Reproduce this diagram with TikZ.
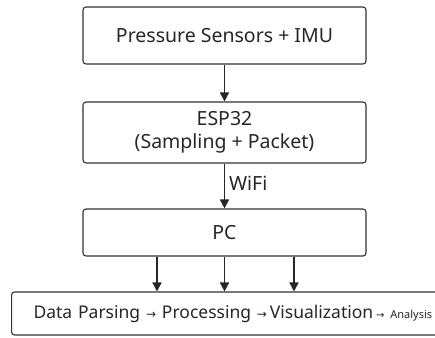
\documentclass[tikz,border=0pt]{standalone}
\usepackage{fontspec}
\setmainfont{Noto Sans}
\newfontfamily\arrowfont{DejaVu Sans}
\usetikzlibrary{arrows.meta}
\newcommand{\thento}[1]{{\arrowfont\fontsize{#1}{#1}\selectfont →}}
\begin{document}
\begin{tikzpicture}[x=1pt, y=-1pt,
    every node/.style={draw=black!80, line width=1.1pt, rounded corners=3pt, font=\fontsize{19.5}{23}\selectfont, text=black!85},
    flow/.style={-{Triangle[length=9pt, width=9pt]}, line width=1.5pt, draw=black!85}]
    \useasboundingbox (0,0) rectangle (435,337);

    \node[minimum width=283pt, minimum height=57pt] (sensors) at (224.5,35.5) {Pressure Sensors + IMU};
    \node[minimum width=283pt, minimum height=61pt, align=center] (esp) at (224.5,132.5) {ESP32\\(Sampling + Packet)};
    \node[minimum width=283pt, minimum height=47pt] (pc) at (224.5,232.5) {PC};
    \node[minimum height=43pt, anchor=west, text width=480pt, align=left, inner xsep=22pt, font=\fontsize{17.5}{21}\selectfont] (data) at (11,313.5) {Data Parsing \thento{12} Processing \thento{12}\,Visualization\,{\fontsize{11}{13}\selectfont\thento{10} Analysis}};

    \coordinate (left) at (157,0);
    \coordinate (mid) at (224.5,0);
    \coordinate (right) at (294,0);

    \draw[flow] (sensors) -- (esp);
    \draw[flow] (esp) -- node[draw=none, anchor=west, pos=0.45, inner sep=4pt] (wifi) {WiFi} (pc);
    \draw[flow] (left |- pc.south) -- (left |- data.north);
    \draw[flow] (mid |- pc.south) -- (mid |- data.north);
    \draw[flow] (right |- pc.south) -- (right |- data.north);
\end{tikzpicture}
\end{document}
